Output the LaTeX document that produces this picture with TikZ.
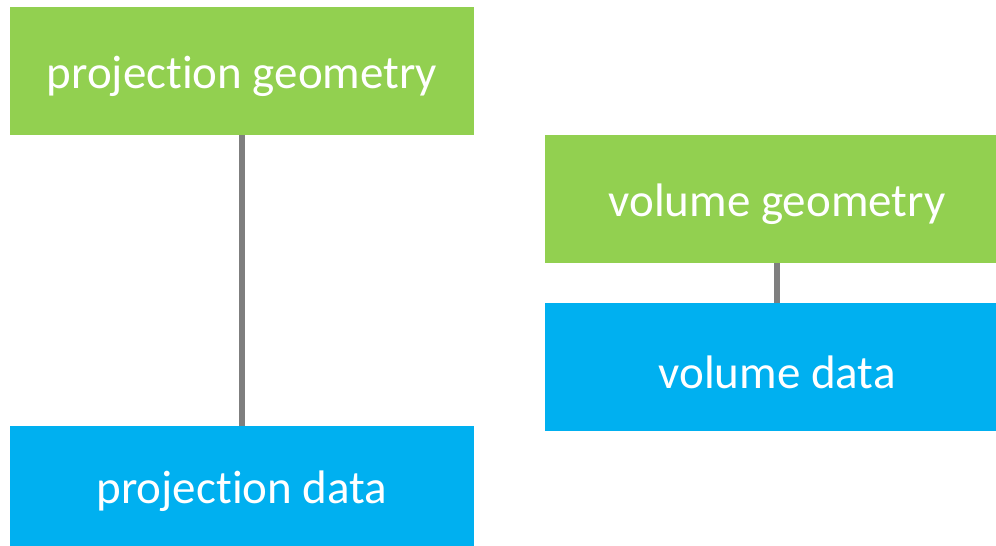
\documentclass[tikz,border=0pt]{standalone}
\usepackage{fontspec}
\setmainfont{Carlito}[Ligatures=CommonOff]
\definecolor{boxgreen}{HTML}{92D050}
\definecolor{boxblue}{HTML}{00B0F0}
\definecolor{linegray}{HTML}{7F7F7F}
\newcommand{\lowlabel}[1]{\raisebox{-5pt}[\height][\depth]{#1}}
\begin{document}
\begin{tikzpicture}[x=1pt,y=1pt,
  boxbase/.style={rectangle,inner sep=0pt,text=white,font=\fontsize{47}{56}\selectfont},
  greenbox/.style={boxbase,fill=boxgreen},
  bluebox/.style={boxbase,fill=boxblue},
  link/.style={draw=linegray,line width=6pt}]
\useasboundingbox (0,0) rectangle (996,-546);
\node[greenbox,minimum width=464pt,minimum height=128pt] (pg) at (242,-71) {\lowlabel{projection geometry}};
\node[bluebox,minimum width=464pt,minimum height=120pt] (pd) at (242,-486) {\lowlabel{projection data}};
\node[greenbox,minimum width=464pt,minimum height=128pt] (vg) at (777,-199) {\lowlabel{volume geometry}};
\node[bluebox,minimum width=464pt,minimum height=128pt] (vd) at (777,-367) {\lowlabel{volume data}};
\draw[link] (pg.south) -- (pd.north);
\draw[link] (vg.south) -- (vd.north);
\end{tikzpicture}
\end{document}
